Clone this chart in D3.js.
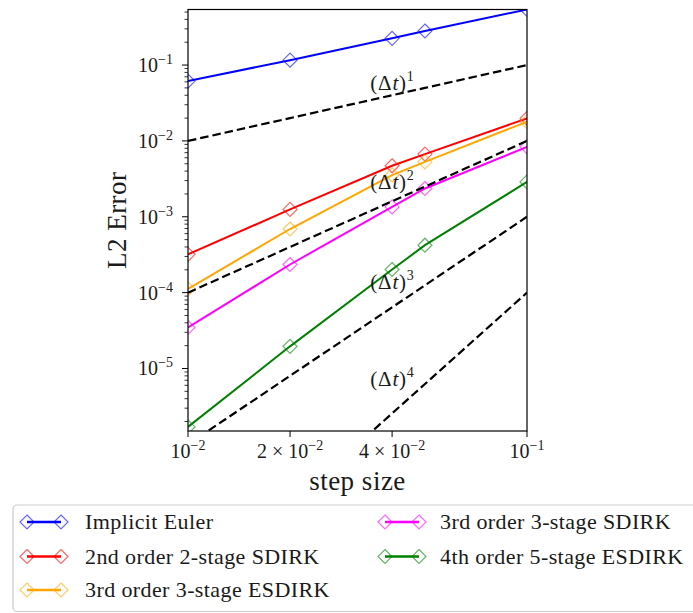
<!DOCTYPE html>
<html>
<head>
<meta charset="utf-8">
<script src="https://cdn.jsdelivr.net/npm/d3@7"></script>
<style>
  body { margin: 0; background: #fff; }
  text { font-family: "Liberation Serif", "DejaVu Serif", serif; fill: #1a1a1a; }
</style>
</head>
<body>
<div class="convChart"></div>
<script>
let width = 693
let height = 613

// step sizes and L2 errors per scheme
const stepSizes = [0.01, 0.02, 0.04, 0.05, 0.1]
const errImplicitEuler = [0.0615, 0.116, 0.225, 0.281, 0.54]
const errSdirk2 = [3.2e-4, 1.25e-3, 4.7e-3, 6.7e-3, 0.0198]
const errEsdirk3 = [1.12e-4, 6.9e-4, 3.55e-3, 5.3e-3, 0.0179]
const errSdirk3 = [3.47e-5, 2.35e-4, 1.35e-3, 2.36e-3, 8.35e-3]
const errEsdirk4 = [1.7e-6, 1.96e-5, 2.02e-4, 4.22e-4, 2.88e-3]

const seriesNames = ["Implicit Euler", "2nd order 2-stage SDIRK", "3rd order 3-stage ESDIRK",
                     "3rd order 3-stage SDIRK", "4th order 5-stage ESDIRK"]
const seriesColors = ["#0000ff", "#ff0000", "#ffa500", "#ff00ff", "#008000"]

// reference slopes (dt)^p
const refOrder1 = [1e-2, 2e-2, 4e-2, 5e-2, 1e-1]
const refOrder2 = [1e-4, 4e-4, 1.6e-3, 2.5e-3, 1e-2]
const refOrder3 = [1e-6, 8e-6, 6.4e-5, 1.25e-4, 1e-3]
const refOrder4 = [1e-8, 1.6e-7, 2.56e-6, 6.25e-6, 1e-4]
const refLabels = ["1", "2", "3", "4"]
const refLabelX = 0.0345
const refLabelY = [0.058, 2.9e-3, 1.38e-4, 7.35e-6]

const xTickValues = [0.01, 0.02, 0.04, 0.1]
const xTickLabels = ["10^−2", "2 × 10^−2", "4 × 10^−2", "10^−1"]
const yTickValues = [1e-5, 1e-4, 1e-3, 1e-2, 1e-1]
const yTickLabels = ["10^−5", "10^−4", "10^−3", "10^−2", "10^−1"]

const errSeries = [errImplicitEuler, errSdirk2, errEsdirk3, errSdirk3, errEsdirk4]
const refSeries = [refOrder1, refOrder2, refOrder3, refOrder4]

const svg = d3.select(".convChart")
  .append("svg")
  .attr("width", width)
  .attr("height", height)

const pLeft = 188, pRight = 527, pTop = 9.5, pBottom = 431

const x = d3.scaleLog()
  .domain([0.01, 0.1])
  .range([pLeft, pRight])
const y = d3.scaleLog()
  .domain([1.5e-6, 0.54])
  .range([pBottom, pTop])

svg.append("clipPath").attr("id", "plotClip")
  .append("rect")
  .attr("x", pLeft).attr("y", pTop)
  .attr("width", pRight - pLeft).attr("height", pBottom - pTop)

const plot = svg.append("g").attr("clip-path", "url(#plotClip)")

const line = d3.line()
  .x((d, i) => x(stepSizes[i]))
  .y(d => y(d))

const diamond = (cx, cy, r) => `M${cx},${cy - r}L${cx + r},${cy}L${cx},${cy + r}L${cx - r},${cy}Z`

errSeries.forEach((vals, k) => {
  plot.append("path")
    .attr("d", line(vals))
    .attr("fill", "none")
    .attr("stroke", seriesColors[k])
    .attr("stroke-width", 2)
  plot.selectAll(null)
    .data(vals)
    .enter()
    .append("path")
    .attr("d", (d, i) => diamond(x(stepSizes[i]), y(d), 7))
    .attr("fill", "none")
    .attr("stroke", seriesColors[k])
    .attr("stroke-opacity", 0.6)
    .attr("stroke-width", 1.2)
})

refSeries.forEach(vals => {
  plot.append("path")
    .attr("d", line(vals))
    .attr("fill", "none")
    .attr("stroke", "#000")
    .attr("stroke-width", 2.2)
    .attr("stroke-dasharray", "8.5,4")
})

// (dt)^p labels
refLabels.forEach((p, k) => {
  const t = svg.append("text")
    .attr("x", x(refLabelX))
    .attr("y", y(refLabelY[k]) + 7)
    .attr("font-size", 21)
    .attr("letter-spacing", "0.8px")
  t.append("tspan").text("(Δ")
  t.append("tspan").attr("font-style", "italic").text("t")
  t.append("tspan").text(")")
  t.append("tspan").attr("font-size", 14).attr("dy", -9).text(p)
})

// spines
svg.append("rect")
  .attr("x", pLeft).attr("y", pTop)
  .attr("width", pRight - pLeft).attr("height", pBottom - pTop)
  .attr("fill", "none")
  .attr("stroke", "#000")
  .attr("stroke-width", 1.2)

function powLabel(sel, label, baseSize) {
  const parts = label.split("^")
  sel.append("tspan").text(parts[0])
  sel.append("tspan").attr("font-size", baseSize * 0.7).attr("dy", -8).text(parts[1])
}

// x ticks
xTickValues.forEach((v, i) => {
  svg.append("line")
    .attr("x1", x(v)).attr("x2", x(v))
    .attr("y1", pBottom).attr("y2", pBottom + 6)
    .attr("stroke", "#000").attr("stroke-width", 1)
  const t = svg.append("text")
    .attr("x", x(v))
    .attr("y", pBottom + 27)
    .attr("text-anchor", "middle")
    .attr("font-size", 20)
  powLabel(t, xTickLabels[i], 20)
})

// y ticks
const yMinor = y.ticks().filter(v => Math.abs(Math.log10(v) - Math.round(Math.log10(v))) > 1e-6)
svg.selectAll(null)
  .data(yMinor)
  .enter()
  .append("line")
  .attr("x1", pLeft - 3.5).attr("x2", pLeft)
  .attr("y1", d => y(d)).attr("y2", d => y(d))
  .attr("stroke", "#000").attr("stroke-width", 0.8)

yTickValues.forEach((v, i) => {
  svg.append("line")
    .attr("x1", pLeft - 6).attr("x2", pLeft)
    .attr("y1", y(v)).attr("y2", y(v))
    .attr("stroke", "#000").attr("stroke-width", 1)
  const t = svg.append("text")
    .attr("x", pLeft - 15)
    .attr("y", y(v) + 7)
    .attr("text-anchor", "end")
    .attr("font-size", 20)
  powLabel(t, yTickLabels[i], 20)
})

// axis labels
svg.append("text")
  .attr("x", (pLeft + pRight) / 2)
  .attr("y", 490)
  .attr("text-anchor", "middle")
  .attr("font-size", 27)
  .attr("letter-spacing", "0.5px")
  .text("step size")

svg.append("text")
  .attr("transform", `translate(126,${(pTop + pBottom) / 2}) rotate(-90)`)
  .attr("text-anchor", "middle")
  .attr("font-size", 27)
  .attr("letter-spacing", "0.5px")
  .text("L2 Error")

// legend
const legend = svg.append("g")
legend.append("rect")
  .attr("x", 13).attr("y", 505)
  .attr("width", 700).attr("height", 106.5)
  .attr("rx", 4)
  .attr("fill", "#fff")
  .attr("stroke", "#cccccc")
  .attr("stroke-width", 1.2)

const colX = [27, 385]
const textX = [85, 440]
const rowY = [522, 556.5, 590]

seriesNames.forEach((name, k) => {
  const col = k < 3 ? 0 : 1
  const row = k < 3 ? k : k - 3
  const cx = colX[col], cy = rowY[row]
  legend.append("line")
    .attr("x1", cx).attr("x2", cx + 34)
    .attr("y1", cy).attr("y2", cy)
    .attr("stroke", seriesColors[k])
    .attr("stroke-width", 2.5)
  ;[cx, cx + 34].forEach(px => {
    legend.append("path")
      .attr("d", diamond(px, cy, 7))
      .attr("fill", "none")
      .attr("stroke", seriesColors[k])
      .attr("stroke-opacity", 0.6)
      .attr("stroke-width", 1.2)
  })
  legend.append("text")
    .attr("x", textX[col])
    .attr("y", cy + 7)
    .attr("font-size", 22)
    .attr("letter-spacing", "0.4px")
    .text(name)
})
</script>
</body>
</html>
